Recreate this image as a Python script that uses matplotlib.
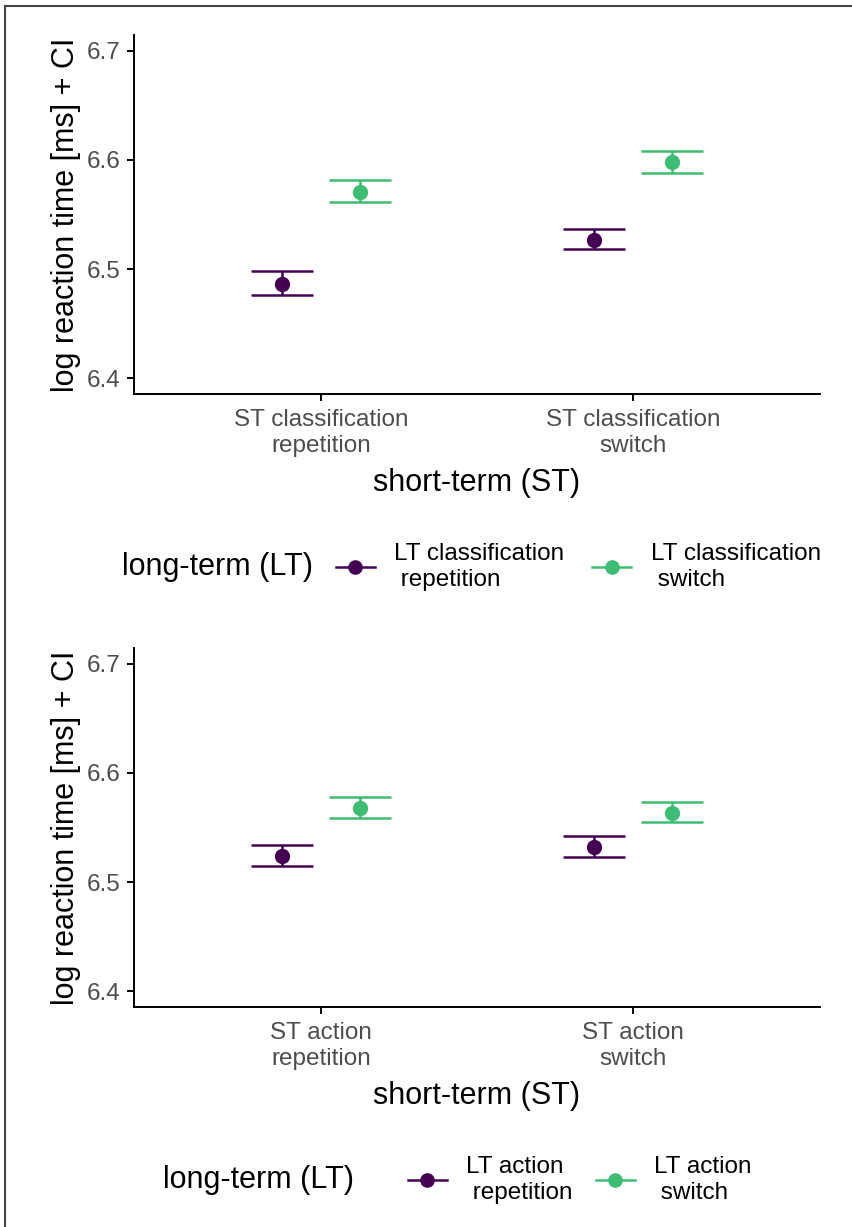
import matplotlib.pyplot as plt
from matplotlib.lines import Line2D
import numpy as np

# horni panel - klasifikace
top_cats = ["ST classification\nrepetition", "ST classification\nswitch"]
top_labels = ["LT classification\n repetition", "LT classification\n switch"]
top_rep = [6.486, 6.527]
top_rep_lo = [6.476, 6.518]
top_rep_hi = [6.498, 6.537]
top_sw = [6.571, 6.598]
top_sw_lo = [6.561, 6.588]
top_sw_hi = [6.582, 6.608]

# dolni panel - akce
bot_cats = ["ST action\nrepetition", "ST action\nswitch"]
bot_labels = ["LT action\n repetition", "LT action\n switch"]
bot_rep = [6.524, 6.532]
bot_rep_lo = [6.515, 6.523]
bot_rep_hi = [6.534, 6.542]
bot_sw = [6.568, 6.563]
bot_sw_lo = [6.559, 6.555]
bot_sw_hi = [6.578, 6.573]

yticks = [6.4, 6.5, 6.6, 6.7]
colors = ["#440154", "#3FBC73"]

plt.rcParams['font.family'] = ['Liberation Sans', 'DejaVu Sans']

W, H = 852, 1227
fig = plt.figure(figsize=(W / 100, H / 100), dpi=100)


def panel(top_px, bottom_px, cats, series, labels, title_x, key_x, leg_y, colsp):
    ax = fig.add_axes([134 / W, 1 - bottom_px / H, (820 - 134) / W, (bottom_px - top_px) / H])
    x = np.arange(1, len(cats) + 1)
    offsets = [-0.125, 0.125]
    for (m, lo, hi), c, off in zip(series, colors, offsets):
        m = np.array(m)
        yerr = [m - np.array(lo), np.array(hi) - m]
        ax.errorbar(x + off, m, yerr=yerr, fmt='o', color=c, ms=10,
                    elinewidth=1.8, capsize=22.5, capthick=1.8)
    ax.set_xlim(0.4, 2.6)
    ax.set_ylim(6.3855, 6.7145)
    ax.set_xticks(x)
    ax.set_xticklabels(cats, fontsize=17.5, color='#4D4D4D', linespacing=1.2)
    ax.set_yticks(yticks)
    ax.set_yticklabels([f"{t:.1f}" for t in yticks], fontsize=17.5, color='#4D4D4D')
    for s in ['top', 'right']:
        ax.spines[s].set_visible(False)
    for s in ['left', 'bottom']:
        ax.spines[s].set_linewidth(1.4)
    ax.tick_params(length=5, width=1.4, pad=5)
    ax.tick_params(axis='x', pad=6)
    ax.set_xlabel("short-term (ST)", fontsize=22, labelpad=8)
    ax.set_ylabel("log reaction time [ms] + CI", fontsize=22, labelpad=4)

    handles = [Line2D([], [], color=c, marker='o', ms=9.5, lw=1.8) for c in colors]
    fig.legend(handles, labels, ncol=2, frameon=False, fontsize=17.5,
               loc='center left', bbox_to_anchor=(key_x / W, 1 - leg_y / H),
               borderpad=0, borderaxespad=0, handlelength=1.6,
               handletextpad=0.8, columnspacing=colsp)
    fig.text(title_x / W, 1 - leg_y / H, "long-term (LT)", fontsize=22,
             ha='left', va='center')
    return ax


panel(35, 394, top_cats,
      [(top_rep, top_rep_lo, top_rep_hi), (top_sw, top_sw_lo, top_sw_hi)],
      top_labels, 122, 336, 567, 1.15)
panel(648, 1007, bot_cats,
      [(bot_rep, bot_rep_lo, bot_rep_hi), (bot_sw, bot_sw_lo, bot_sw_hi)],
      bot_labels, 163, 408, 1180, 0.95)

# ramecek kolem obrazku
fig.add_artist(Line2D([5 / W, 5 / W], [0, 1 - 6 / H], color='#444444', lw=1.5))
fig.add_artist(Line2D([5 / W, 1], [1 - 6 / H, 1 - 6 / H], color='#444444', lw=1.5))

fig.savefig('out.png', dpi=100)
